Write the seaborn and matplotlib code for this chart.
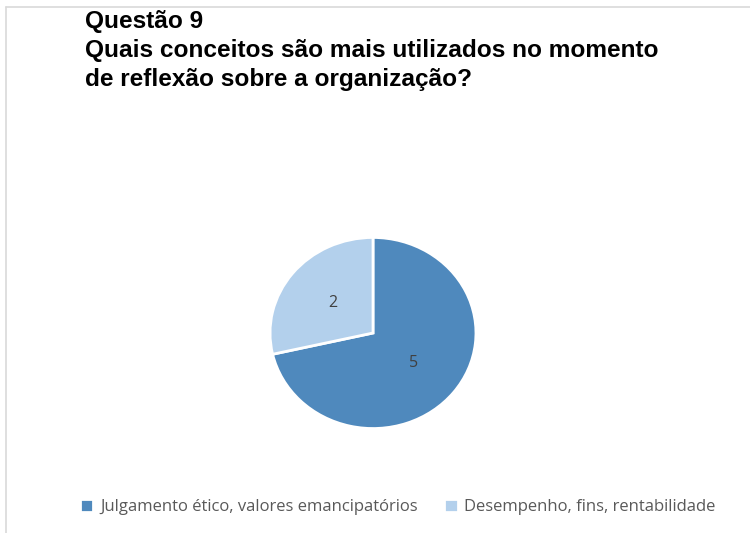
import matplotlib
matplotlib.use("Agg")
import matplotlib.pyplot as plt
from matplotlib.lines import Line2D
import seaborn as sns

# Survey answers for question 9
categories = ["Julgamento ético, valores emancipatórios", "Desempenho, fins, rentabilidade"]
counts = [5, 2]
title_lines = ["Questão 9", "Quais conceitos são mais utilizados no momento", "de reflexão sobre a organização?"]

sns.set_theme(style="white")
plt.rcParams["font.family"] = ["Liberation Sans", "DejaVu Sans"]

colors = ["#4F89BD", "#B3D0EC"]
sns.set_palette(colors)

W, H = 750, 533
fig = plt.figure(figsize=(W / 100, H / 100), dpi=100)
fig.patch.set_facecolor("white")

# chart frame (top and left edges)
fig.add_artist(Line2D([6 / W, 1], [1 - 7 / H, 1 - 7 / H], color="#D9D9D9", lw=1.2))
fig.add_artist(Line2D([6 / W, 6 / W], [0, 1 - 7 / H], color="#D9D9D9", lw=1.2))

# title
fig.text(85 / W, 1 - 10 / H, "\n".join(title_lines), ha="left", va="top",
         fontsize=17.6, fontweight="bold", color="black", linespacing=1.32,
         family=["Liberation Sans", "DejaVu Sans"])

# pie
cx, cy, rx, ry = 373, 333, 104, 96.5
ax = fig.add_axes([(cx - rx) / W, (H - cy - ry) / H, 2 * rx / W, 2 * ry / H])
total = sum(counts)
wedges, texts, autotexts = ax.pie(
    counts, colors=sns.color_palette(), startangle=90, counterclock=False,
    autopct=lambda p: f"{round(p * total / 100)}", pctdistance=0.5,
    wedgeprops=dict(edgecolor="white", linewidth=2),
    textprops=dict(color="#404040", fontsize=11.5, family=["Open Sans", "DejaVu Sans"]),
)
ax.set_aspect("auto")
ax.set_xlim(-1.01, 1.01)
ax.set_ylim(-1.01, 1.01)
ax.axis("off")

# legend
fig.legend(wedges, categories, loc="center", bbox_to_anchor=(398 / W, 1 - 507 / H),
           ncol=2, frameon=False, handlelength=0.8, handleheight=0.8,
           handletextpad=0.4, columnspacing=1.6,
           prop=dict(family=["Open Sans", "DejaVu Sans"], size=12),
           labelcolor="#595959")

fig.savefig("out.png", dpi=100, facecolor="white")
